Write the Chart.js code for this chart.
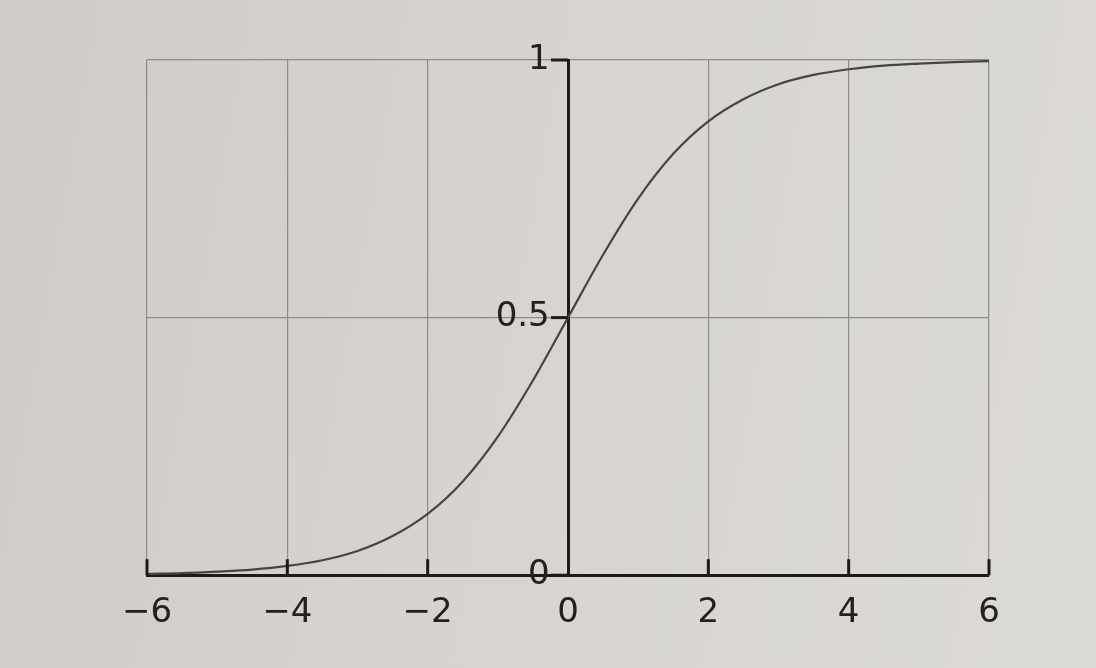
<!DOCTYPE html>
<html lang="zh">

<head>
    <meta charset="UTF-8">
    <title>Sigmoid</title>
    <script src="https://cdn.jsdelivr.net/npm/chart.js"></script>
    <style>
        html, body {
            margin: 0;
            padding: 0;
        }
        body {
            width: 1096px;
            height: 668px;
            overflow: hidden;
            background: linear-gradient(100deg, #cfccc7 0%, #d7d4cf 45%, #dcdad6 100%);
        }
        .box {
            width: 1096px;
            height: 668px;
        }
    </style>
</head>

<body>
    <div class="box">
        <canvas id="grafico" width="1096" height="668"></canvas>
    </div>

    <script>
        // valores (x, y)
        const valoresX = [-6, -5.5, -5, -4.5, -4, -3.5, -3, -2.5, -2, -1.5, -1, -0.5, 0,
            0.5, 1, 1.5, 2, 2.5, 3, 3.5, 4, 4.5, 5, 5.5, 6];
        const valoresY = [0.0025, 0.004, 0.007, 0.011, 0.018, 0.029, 0.047, 0.076, 0.119, 0.182, 0.269, 0.378, 0.5,
            0.622, 0.731, 0.818, 0.881, 0.924, 0.953, 0.971, 0.982, 0.989, 0.993, 0.996, 0.998];
        const ticksX = [-6, -4, -2, 0, 2, 4, 6];
        const ticksY = [0, 0.5, 1];

        const fonte = { family: 'DejaVu Sans', size: 34 };
        const corTexto = '#232120';
        const corGrade = '#8f8c88';
        const corEixo = '#1c1b1a';

        const pontos = valoresX.map((x, i) => ({ x: x, y: valoresY[i] }));

        // marcas curtas: para dentro no eixo de baixo, para a esquerda no eixo do 0
        const marcas = {
            id: 'marcas',
            afterDraw(chart) {
                const ctx = chart.ctx;
                const sx = chart.scales.x;
                const sy = chart.scales.y;
                const base = chart.chartArea.bottom;
                const eixo = sx.getPixelForValue(0);
                ctx.save();
                ctx.strokeStyle = corEixo;
                ctx.lineWidth = 3;
                sx.ticks.forEach(t => {
                    if (t.value === 0) return;
                    const px = sx.getPixelForValue(t.value);
                    ctx.beginPath();
                    ctx.moveTo(px, base);
                    ctx.lineTo(px, base - 16);
                    ctx.stroke();
                });
                sy.ticks.forEach(t => {
                    const py = sy.getPixelForValue(t.value);
                    ctx.beginPath();
                    ctx.moveTo(eixo, py);
                    ctx.lineTo(eixo - 17, py);
                    ctx.stroke();
                });
                ctx.restore();
            }
        };

        new Chart(document.getElementById('grafico'), {
            type: 'scatter',
            data: {
                datasets: [{
                    data: pontos,
                    showLine: true,
                    borderColor: '#474542',
                    borderWidth: 2.2,
                    pointRadius: 0,
                    cubicInterpolationMode: 'monotone'
                }]
            },
            options: {
                responsive: false,
                animation: false,
                layout: {
                    padding: { left: 147, right: 107, top: 60, bottom: 16 }
                },
                plugins: {
                    legend: { display: false },
                    tooltip: { enabled: false }
                },
                scales: {
                    x: {
                        type: 'linear',
                        min: -6,
                        max: 6,
                        afterBuildTicks: (axis) => { axis.ticks = ticksX.map(v => ({ value: v })); },
                        ticks: {
                            font: fonte,
                            color: corTexto,
                            padding: 18,
                            callback: (v) => v < 0 ? '\u2212' + Math.abs(v) : String(v)
                        },
                        grid: {
                            color: corGrade,
                            lineWidth: 1.2,
                            drawTicks: false
                        },
                        border: { display: true, color: corEixo, width: 3 }
                    },
                    // eixo vertical no x = 0 (linha e grade)
                    y: {
                        type: 'linear',
                        min: 0,
                        max: 1,
                        position: { x: 0 },
                        afterBuildTicks: (axis) => { axis.ticks = ticksY.map(v => ({ value: v })); },
                        ticks: { display: false },
                        grid: {
                            color: corGrade,
                            lineWidth: 1.2,
                            drawTicks: false
                        },
                        border: { display: true, color: corEixo, width: 3 }
                    },
                    // só os rótulos, um pouco à esquerda do eixo
                    yRotulos: {
                        axis: 'y',
                        type: 'linear',
                        min: 0,
                        max: 1,
                        position: { x: -0.26 },
                        afterBuildTicks: (axis) => { axis.ticks = ticksY.map(v => ({ value: v })); },
                        ticks: {
                            font: fonte,
                            color: corTexto,
                            callback: (v) => String(v)
                        },
                        grid: { display: false, drawTicks: false },
                        border: { display: false }
                    }
                }
            },
            plugins: [marcas]
        });
    </script>
</body>

</html>
